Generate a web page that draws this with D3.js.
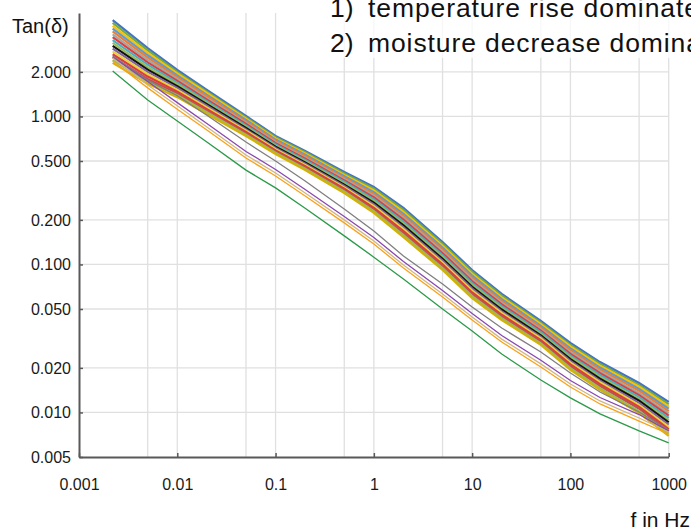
<!DOCTYPE html>
<html>
<head>
<meta charset="utf-8">
<script src="https://cdn.jsdelivr.net/npm/d3@7"></script>
<style>
  body { margin: 0; background: #fff; }
  text { font-family: "Liberation Sans", Arial, sans-serif; }
</style>
</head>
<body>
<div id="chart"></div>
<script>
// frequencies of the measurement points (Hz)
let freqs = [0.0022, 0.005, 0.01, 0.02, 0.05, 0.1, 0.2, 0.5, 1, 2, 5, 10, 20, 50, 100, 200, 500, 1000]

// main bundle of tan(delta) curves, top to bottom
let bundle = [
  [4.48, 2.90, 2.06, 1.51, 1.007, 0.738, 0.584, 0.421, 0.334, 0.241, 0.1418, 0.0917, 0.0632, 0.0415, 0.0295, 0.0219, 0.0158, 0.01177],
  [4.29, 2.80, 2.00, 1.47, 0.986, 0.724, 0.573, 0.412, 0.325, 0.234, 0.1377, 0.0891, 0.0615, 0.0405, 0.0286, 0.0213, 0.0153, 0.01136],
  [4.10, 2.69, 1.95, 1.44, 0.966, 0.711, 0.562, 0.403, 0.316, 0.227, 0.1338, 0.0865, 0.0599, 0.0395, 0.0279, 0.0207, 0.0149, 0.01097],
  [3.92, 2.59, 1.89, 1.40, 0.946, 0.698, 0.551, 0.395, 0.308, 0.220, 0.1300, 0.0840, 0.0583, 0.0385, 0.0271, 0.0201, 0.0144, 0.01059],
  [3.75, 2.50, 1.84, 1.37, 0.927, 0.685, 0.540, 0.386, 0.300, 0.213, 0.1263, 0.0816, 0.0567, 0.0376, 0.0264, 0.0195, 0.0140, 0.01022],
  [3.59, 2.41, 1.79, 1.33, 0.908, 0.672, 0.529, 0.378, 0.292, 0.207, 0.1226, 0.0793, 0.0552, 0.0366, 0.0256, 0.0190, 0.0135, 0.00987],
  [3.43, 2.32, 1.74, 1.30, 0.889, 0.660, 0.519, 0.370, 0.284, 0.201, 0.1191, 0.0770, 0.0537, 0.0357, 0.0249, 0.0184, 0.0131, 0.00953],
  [3.28, 2.24, 1.69, 1.27, 0.871, 0.647, 0.509, 0.362, 0.276, 0.195, 0.1157, 0.0748, 0.0523, 0.0349, 0.0242, 0.0179, 0.0127, 0.00920],
  [3.14, 2.15, 1.65, 1.24, 0.853, 0.635, 0.499, 0.354, 0.269, 0.189, 0.1124, 0.0727, 0.0509, 0.0340, 0.0236, 0.0174, 0.0123, 0.00888],
  [3.00, 2.07, 1.60, 1.21, 0.836, 0.624, 0.489, 0.346, 0.262, 0.184, 0.1092, 0.0706, 0.0496, 0.0332, 0.0229, 0.0169, 0.0120, 0.00857],
  [2.87, 2.00, 1.56, 1.18, 0.818, 0.612, 0.480, 0.339, 0.255, 0.178, 0.1061, 0.0686, 0.0482, 0.0324, 0.0223, 0.0164, 0.0116, 0.00827],
  [2.75, 1.93, 1.51, 1.15, 0.802, 0.601, 0.470, 0.332, 0.248, 0.173, 0.1030, 0.0666, 0.0470, 0.0316, 0.0217, 0.0160, 0.0112, 0.00799],
  [2.63, 1.86, 1.47, 1.12, 0.785, 0.590, 0.461, 0.325, 0.241, 0.168, 0.1001, 0.0647, 0.0457, 0.0308, 0.0211, 0.0155, 0.0109, 0.00771],
  [2.51, 1.79, 1.43, 1.09, 0.769, 0.579, 0.452, 0.318, 0.235, 0.163, 0.0972, 0.0629, 0.0445, 0.0301, 0.0205, 0.0151, 0.0106, 0.00744],
  [2.40, 1.72, 1.39, 1.07, 0.753, 0.568, 0.443, 0.311, 0.229, 0.158, 0.0944, 0.0611, 0.0433, 0.0293, 0.0199, 0.0146, 0.0102, 0.00719],
  [2.30, 1.66, 1.35, 1.04, 0.738, 0.558, 0.435, 0.304, 0.223, 0.153, 0.0917, 0.0593, 0.0421, 0.0286, 0.0194, 0.0142, 0.0099, 0.00694]
]
let bundleColors = ["#4472c4", "#70ad47", "#ffc000", "#5b9bd5", "#ed7d31", "#a5a5a5", "#e03c3c", "#4bacc6",
                    "#9bbb59", "#111111", "#8064a2", "#e8d43a", "#e03c3c", "#c0504d", "#9bbb59", "#d4b106"]

// curves that split off below the bundle
let grayCurve   = [2.56, 1.76, 1.38, 1.02, 0.672, 0.500, 0.366, 0.237, 0.168, 0.1141, 0.0738, 0.0516, 0.0372, 0.0256, 0.01847, 0.01374, 0.01007, 0.00761]
let purpleCurve = [2.52, 1.72, 1.24, 0.896, 0.580, 0.438, 0.321, 0.211, 0.152, 0.1047, 0.0667, 0.0466, 0.0331, 0.0225, 0.01643, 0.01262, 0.00968, 0.00749]
let tanCurve    = [2.48, 1.63, 1.18, 0.849, 0.549, 0.415, 0.304, 0.200, 0.144, 0.0991, 0.0632, 0.0441, 0.0313, 0.0213, 0.01556, 0.01196, 0.00917, 0.00738]
let orangeCurve = [2.37, 1.56, 1.12, 0.810, 0.524, 0.396, 0.290, 0.191, 0.1375, 0.0946, 0.0603, 0.0421, 0.0299, 0.0203, 0.01485, 0.01141, 0.00875, 0.00715]
let greenCurve  = [2.03, 1.29, 0.931, 0.671, 0.434, 0.329, 0.240, 0.156, 0.112, 0.0798, 0.0500, 0.0355, 0.0248, 0.01655, 0.01254, 0.00977, 0.00750, 0.00622]

// axis ticks
let xTicks = [0.001, 0.01, 0.1, 1, 10, 100, 1000]
let xTickLabels = ["0.001", "0.01", "0.1", "1", "10", "100", "1000"]
let yTicks = [0.005, 0.01, 0.02, 0.05, 0.1, 0.2, 0.5, 1, 2]
let yTickLabels = ["0.005", "0.010", "0.020", "0.050", "0.100", "0.200", "0.500", "1.000", "2.000"]
let xGrid = [0.005, 0.01, 0.05, 0.1, 0.5, 1, 5, 10, 50, 100, 500, 1000]
let yGrid = [0.01, 0.02, 0.05, 0.1, 0.2, 0.5, 1, 2]

const width = 691
const height = 530

const svg = d3.select("#chart").append("svg")
    .attr("width", width)
    .attr("height", height)

const x = d3.scaleLog().domain([0.001, 1000]).range([79, 668.7])
const y = d3.scaleLog().domain([0.005, 5]).range([457, 13])

// grid
svg.append("g").selectAll("line").data(xGrid).join("line")
    .attr("x1", d => x(d)).attr("x2", d => x(d))
    .attr("y1", y(5)).attr("y2", y(0.005))
    .attr("stroke", "#e0e0e0").attr("stroke-width", 1.3)
svg.append("g").selectAll("line").data(yGrid).join("line")
    .attr("x1", x(0.001)).attr("x2", x(1000))
    .attr("y1", d => y(d)).attr("y2", d => y(d))
    .attr("stroke", "#e0e0e0").attr("stroke-width", 1.3)

const line = d3.line()
    .x((d, i) => x(freqs[i]))
    .y(d => y(d))

// bundle curves
svg.append("g").selectAll("path").data(bundle).join("path")
    .attr("d", line)
    .attr("fill", "none")
    .attr("stroke", (d, i) => bundleColors[i])
    .attr("stroke-width", 2.2)

let outliers = [
  {vals: grayCurve, color: "#7f7f7f"},
  {vals: purpleCurve, color: "#8848b0"},
  {vals: tanCurve, color: "#d2b67e"},
  {vals: orangeCurve, color: "#f8a21c"},
  {vals: greenCurve, color: "#2b9a48"}
]
svg.append("g").selectAll("path").data(outliers).join("path")
    .attr("d", d => line(d.vals))
    .attr("fill", "none")
    .attr("stroke", d => d.color)
    .attr("stroke-width", 1.3)

// axes
const xAxis = d3.axisBottom(x)
    .tickValues(xTicks)
    .tickFormat((d, i) => xTickLabels[i])
    .tickSize(-4).tickSizeOuter(0).tickPadding(22)
const yAxis = d3.axisLeft(y)
    .tickValues(yTicks)
    .tickFormat((d, i) => yTickLabels[i])
    .tickSize(-4).tickSizeOuter(0).tickPadding(8)

svg.append("g").attr("transform", `translate(0, ${y(0.005)})`).call(xAxis)
svg.append("g").attr("transform", `translate(${x(0.001)}, 0)`).call(yAxis)

svg.selectAll(".domain").attr("stroke", "#595959").attr("stroke-width", 2)
svg.selectAll(".tick line").attr("stroke", "#595959").attr("stroke-width", 1.5)
svg.selectAll(".tick text")
    .attr("font-family", "Liberation Sans, Arial, sans-serif")
    .attr("font-size", 16).attr("fill", "#1a1a1a")

// axis titles
svg.append("text").attr("x", 12).attr("y", 33)
    .attr("font-size", 20).attr("fill", "#111").text("Tan(δ)")
svg.append("text").attr("x", 690).attr("y", 527).attr("text-anchor", "end")
    .attr("font-size", 21).attr("fill", "#111").text("f in Hz")

// note box at the top (runs off the right edge, as in the source)
svg.append("rect").attr("x", 322).attr("y", 0).attr("width", 369).attr("height", 58)
    .attr("fill", "#fff").attr("opacity", 0.75)
let notes = [
  {num: "1)", txt: "temperature rise dominate", yy: 17},
  {num: "2)", txt: "moisture decrease dominate", yy: 52}
]
notes.forEach(n => {
    svg.append("text").attr("x", 330).attr("y", n.yy)
        .attr("font-size", 26.5).attr("fill", "#111").text(n.num)
    svg.append("text").attr("x", 368).attr("y", n.yy)
        .attr("font-size", 26.5).attr("letter-spacing", 0.9).attr("fill", "#111").text(n.txt)
})
</script>
</body>
</html>
